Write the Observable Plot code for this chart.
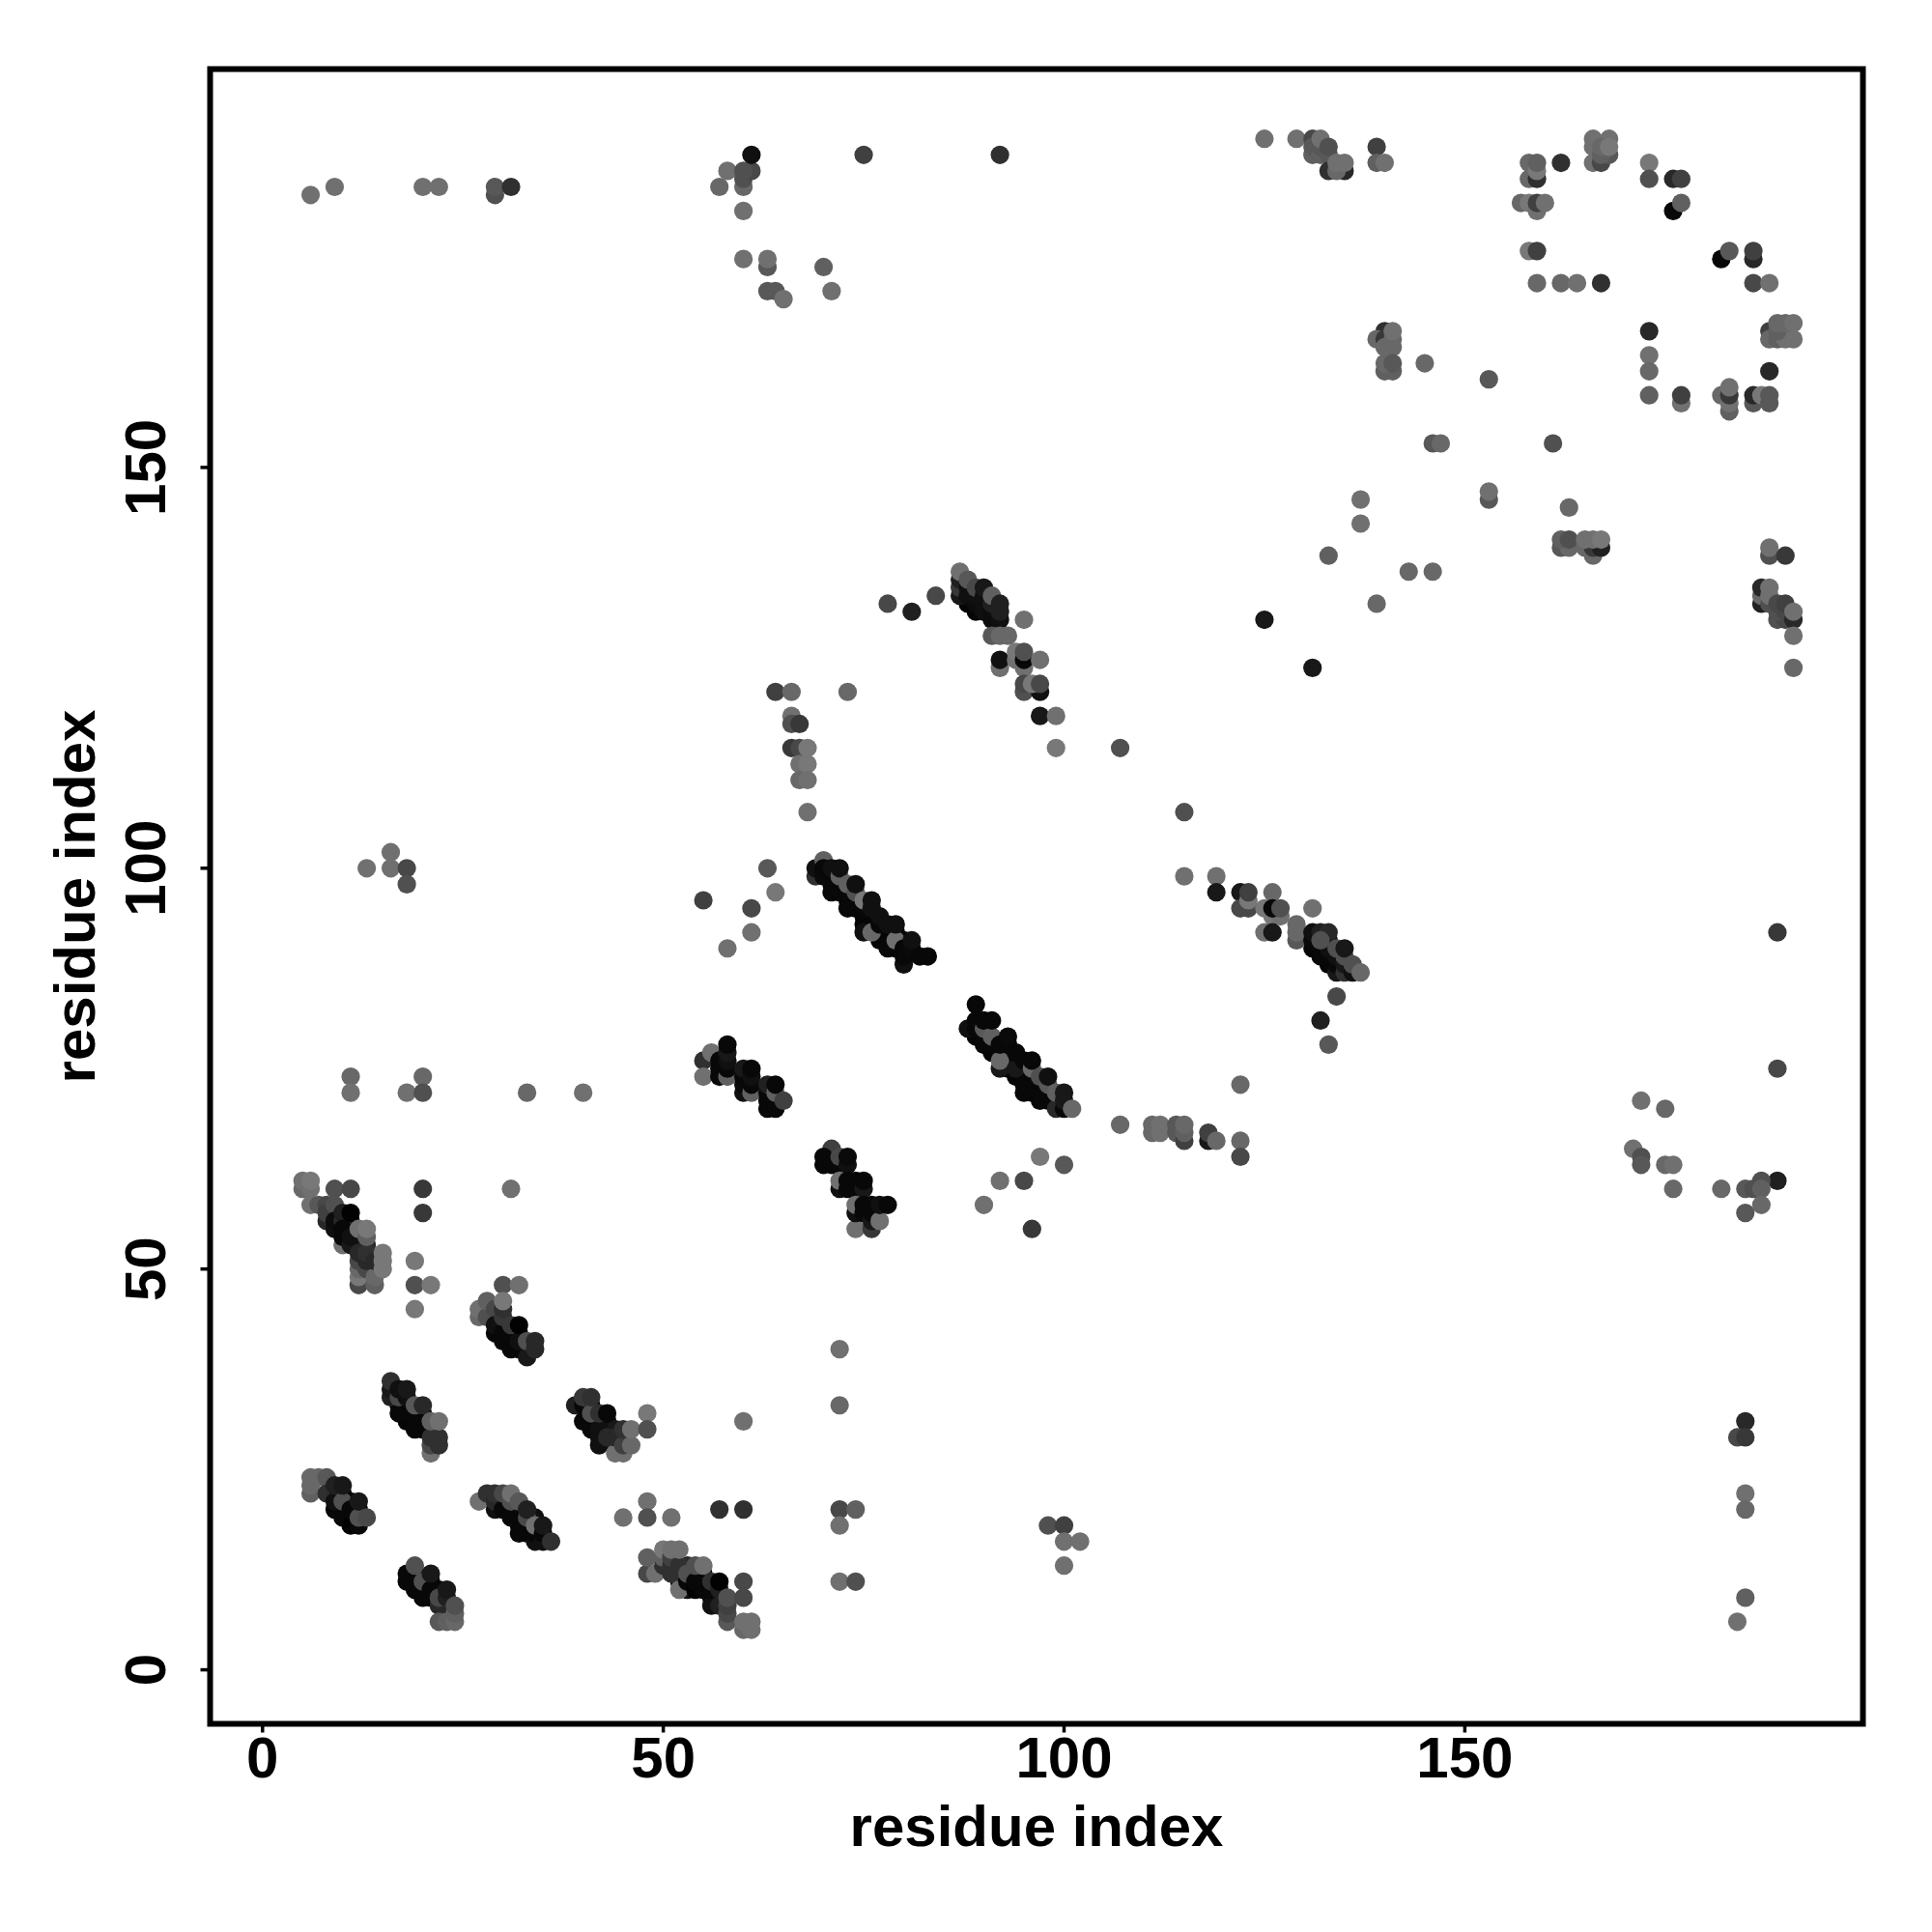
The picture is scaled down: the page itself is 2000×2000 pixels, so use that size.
<!DOCTYPE html>
<html><head><meta charset="utf-8">
<script src="https://cdn.jsdelivr.net/npm/d3@7"></script>
<script src="https://cdn.jsdelivr.net/npm/@observablehq/plot@0.6"></script>
<style>html,body{margin:0;padding:0;background:#fff}</style>
</head><body><div id="chart"></div>
<script>
// contacts as [residue i, residue j, grey level 0-255]
const helixCores=[[71,98,0x06],[72,98,0x06],[73,96,0x06],[74,96,0x06],[74,95,0x06],[75,94,0x06],[76,94,0x06],[76,93,0x06],[75,93,0x06],[77,92,0x06],[78,92,0x06],[78,91,0x06],[79,92,0x06],[79,90,0x06],[80,91,0x06],[77,91,0x06],
[89,79,0x06],[90,79,0x06],[92,77,0x06],[93,77,0x06],[91,77,0x06],[93,76,0x06],[94,76,0x06],[93,75,0x06],[94,74,0x06],[95,75,0x06],[95,74,0x06],[96,74,0x06],[96,72,0x06],[97,73,0x06],[98,72,0x06],[98,71,0x06],[99,71,0x06],
[9,57,0x08],[11,55,0x08],[11,56,0x08],[12,53,0x10],[12,54,0x10],[13,53,0x28],[29,44,0x10],[30,43,0x06],[31,41,0x06],[31,42,0x06],[32,42,0x06],[33,40,0x06],
[17,33,0x06],[18,33,0x06],[18,31,0x06],[19,32,0x06],[20,31,0x06],[20,32,0x06],[21,30,0x10],[41,31,0x06],[41,33,0x06],[42,31,0x06],[43,30,0x10],[43,31,0x10],[44,30,0x18],[44,28,0x28],
[9,22,0x06],[10,20,0x06],[10,22,0x06],[11,19,0x06],[11,21,0x06],[12,20,0x06],[29,20,0x10],[30,21,0x06],[31,20,0x06],[32,18,0x06],[32,20,0x06],[33,18,0x06],[33,17,0x06],[34,19,0x10],
[19,12,0x06],[20,10,0x06],[21,9,0x06],[21,11,0x06],[22,10,0x06],[23,8,0x18],[52,11,0x10],[52,12,0x10],[53,10,0x10],[53,13,0x28],[54,12,0x08],[55,11,0x06],[55,12,0x08],[56,9,0x06],[57,9,0x06],
[89,132,0x06],[88,133,0x06],[131,90,0x06],[133,88,0x06],[133,91,0x10]];
const topLeft=[[6,184,0x70],[9,185,0x70],[20,185,0x70],[22,185,0x70],[29,184,0x50],[29,185,0x58],[31,185,0x30],
[57,185,0x68],[58,187,0x70],[60,185,0x68],[60,186,0x50],[61,187,0x48],[60,187,0x50],[61,189,0x10],[60,182,0x70],[60,176,0x70],[63,175,0x58],[63,176,0x70],[63,172,0x58],[64,172,0x58],[65,171,0x70],[70,175,0x60],[71,172,0x70],[75,189,0x40],[92,189,0x30]];
const topRight=[[125,191,0x70],[129,191,0x70],[131,191,0x48],[131,189,0x60],[131,190,0x58],[132,189,0x60],[132,190,0x58],[132,191,0x70],[133,189,0x58],[133,190,0x50],[133,187,0x30],[135,187,0x28],[134,187,0x68],[134,188,0x70],[135,188,0x70],[139,190,0x40],[139,188,0x60],[140,188,0x70],
[158,188,0x68],[158,186,0x68],[159,186,0x30],[159,187,0x78],[159,188,0x60],[157,183,0x68],[158,183,0x78],[159,182,0x70],[159,183,0x40],[160,183,0x70],[158,177,0x78],[159,177,0x40],[159,173,0x68],[162,173,0x68],[164,173,0x70],[167,173,0x30],[162,188,0x30],
[166,188,0x70],[167,188,0x48],[166,191,0x70],[168,191,0x70],[166,190,0x70],[168,189,0x58],[167,189,0x60],[167,190,0x68],[168,190,0x78],
[173,188,0x78],[173,186,0x50],[176,186,0x28],[177,186,0x40],[176,182,0x08],[177,183,0x60],[182,176,0x08],[183,177,0x58],[186,176,0x28],[186,177,0x40],[186,173,0x48],[188,173,0x70]];
const rightRing=[[188,167,0x40],[188,166,0x68],[189,166,0x60],[190,166,0x70],[191,166,0x70],[189,167,0x60],[189,168,0x68],[190,168,0x68],[191,168,0x70],[188,162,0x28],
[173,167,0x28],[173,164,0x70],[173,162,0x68],[173,159,0x60],[177,158,0x70],[177,159,0x40],[182,159,0x68],[183,157,0x60],[183,158,0x70],[183,159,0x38],[183,160,0x70],[186,158,0x58],[186,159,0x28],[187,159,0x78],[188,158,0x58],[188,159,0x58]];
const column140=[[140,167,0x30],[139,166,0x68],[140,166,0x38],[140,165,0x68],[141,165,0x68],[141,166,0x68],[141,167,0x70],[140,162,0x60],[141,162,0x60],[140,163,0x68],[141,163,0x58],[145,163,0x68],[153,161,0x58],[161,153,0x50],[146,153,0x58],[147,153,0x68],[153,146,0x58],[153,147,0x70],[137,146,0x70],[137,143,0x70],[133,139,0x60],[139,133,0x68],[143,137,0x68],[146,137,0x68],[125,131,0x18],[131,125,0x18]];
const cluster140=[[163,145,0x68],[162,140,0x58],[163,140,0x68],[162,141,0x60],[163,141,0x50],[166,139,0x68],[165,140,0x68],[166,140,0x38],[167,140,0x20],[165,141,0x70],[166,141,0x70],[167,141,0x78],
[188,139,0x50],[188,140,0x70],[190,139,0x38],[187,133,0x20],[187,134,0x68],[187,135,0x28],[188,133,0x50],[188,134,0x70],[188,135,0x70],[189,131,0x50],[190,131,0x48],[189,132,0x50],[190,132,0x48],[189,133,0x48],[190,133,0x40],[191,131,0x28],[191,132,0x70],[191,129,0x70],[191,125,0x68]];
const rightLow=[[189,92,0x38],[189,75,0x48],[189,61,0x20],[187,61,0x50],[185,60,0x58],[186,60,0x50],[187,60,0x60],[182,60,0x68],[185,57,0x58],[187,58,0x68],[172,71,0x70],[175,70,0x68],[171,65,0x70],[172,64,0x50],[172,63,0x58],[175,63,0x68],[176,63,0x70],[176,60,0x68],[185,31,0x28],[184,29,0x48],[185,29,0x38],[185,22,0x70],[185,20,0x68],[185,9,0x60],[184,6,0x70]];
const helix87=[[87,134,0x18],[87,135,0x38],[87,136,0x20],[87,137,0x70],[88,134,0x10],[88,135,0x10],[88,136,0x58],[89,133,0x0c],[89,134,0x10],[89,135,0x48],[90,132,0x10],[90,133,0x10],[90,134,0x10],[90,135,0x18],[91,131,0x0c],[91,132,0x0c],[91,133,0x20],[91,134,0x60],[92,131,0x10],[92,132,0x20],[92,133,0x20],[95,131,0x70],
[91,129,0x58],[92,129,0x68],[93,129,0x68],[92,125,0x70],[92,126,0x10],[94,126,0x70],[94,127,0x78],[95,125,0x70],[95,126,0x08],[95,127,0x50],[97,126,0x70],[95,122,0x50],[95,123,0x48],[97,122,0x10],[96,123,0x78],[97,123,0x48],[97,119,0x18],[99,119,0x70],[99,115,0x78],[107,115,0x50],[84,134,0x48],[81,132,0x20],[78,133,0x48]];
const helix115=[[115,107,0x50],[115,99,0x70],[119,99,0x70],[119,97,0x18],[122,97,0x18],[122,95,0x48],[123,95,0x48],[123,96,0x78],[123,97,0x40],[126,97,0x68],[125,95,0x78],[126,94,0x78],[127,94,0x70],[126,95,0x08],[127,95,0x50],[131,95,0x70],[125,92,0x70],[126,92,0x18],[129,91,0x58],[129,92,0x68],[129,93,0x68],
[131,91,0x08],[131,92,0x10],[132,92,0x20],[133,92,0x28],[132,90,0x08],[132,89,0x08],[133,89,0x08],[133,90,0x10],[134,87,0x18],[134,88,0x08],[134,89,0x10],[132,91,0x50],[134,90,0x50],[135,87,0x30],[135,88,0x18],[135,89,0x50],[135,90,0x18],[136,87,0x10],[136,88,0x50],[137,87,0x68],[134,84,0x48],[132,81,0x20],[133,78,0x58]];
const near100=[[63,100,0x58],[64,97,0x78],[55,96,0x40],[61,95,0x48],[61,92,0x70],[58,90,0x70],[13,100,0x70],[16,102,0x70],[16,100,0x70],[18,100,0x48],[18,98,0x50],[11,74,0x68],[11,72,0x70],[18,72,0x70],[20,74,0x68],[20,72,0x50],[33,72,0x68],[40,72,0x70]];
const helix70=[[69,99,0x30],[69,100,0x10],[70,101,0x60],[70,99,0x0a],[70,100,0x08],[71,97,0x08],[71,99,0x08],[71,100,0x10],[72,97,0x08],[72,99,0x60],[72,100,0x10],[73,95,0x08],[73,97,0x08],[73,98,0x60],[74,97,0x50],[74,98,0x10],[75,92,0x10],[75,95,0x08],[75,96,0x78],[76,92,0x68],[76,95,0x10],[76,96,0x10],[77,93,0x08],[77,94,0x10],[78,90,0x08],[78,93,0x10],[79,91,0x70],[79,93,0x10],[80,88,0x10],[80,89,0x08],[80,90,0x08],[81,90,0x0a],[81,91,0x10],[82,89,0x08],[83,89,0x08]];
const helix89=[[88,80,0x10],[89,80,0x08],[89,81,0x08],[89,83,0x08],[90,78,0x08],[90,80,0x58],[90,81,0x08],[91,78,0x08],[91,79,0x60],[91,81,0x08],[92,75,0x18],[92,76,0x68],[92,78,0x08],[93,78,0x08],[93,79,0x0a],[94,75,0x18],[94,77,0x08],[95,72,0x08],[95,73,0x08],[95,76,0x08],[96,73,0x08],[96,75,0x68],[96,76,0x08],[97,71,0x08],[97,72,0x08],[97,74,0x50],[98,73,0x58],[98,74,0x10],[99,70,0x28],[99,72,0x60],[100,70,0x08],[100,71,0x18],[100,72,0x18],[101,70,0x68],[107,68,0x68]];
const near60=[[97,64,0x78],[100,63,0x58],[92,61,0x70],[95,61,0x48],[90,58,0x70],[96,55,0x38]];
const helix55=[[55,76,0x30],[56,77,0x70],[55,74,0x70],[57,74,0x08],[57,75,0x08],[57,76,0x08],[58,74,0x60],[58,75,0x08],[58,76,0x10],[58,77,0x18],[58,78,0x08],[60,72,0x10],[60,73,0x0a],[60,74,0x08],[60,75,0x18],[61,72,0x60],[61,73,0x08],[61,74,0x10],[61,75,0x08],[63,70,0x08],[63,71,0x08],[63,72,0x08],[63,73,0x20],[64,70,0x08],[64,71,0x08],[64,72,0x60],[64,73,0x08],[65,71,0x40]];
const helix62=[[71,65,0x40],[70,63,0x08],[70,64,0x08],[71,63,0x08],[72,63,0x08],[72,64,0x48],[73,63,0x10],[73,64,0x0a],[72,60,0x10],[72,61,0x70],[73,60,0x08],[73,61,0x08],[74,60,0x08],[74,61,0x08],[75,60,0x18],[75,61,0x08],[74,55,0x70],[74,57,0x10],[74,58,0x70],[75,57,0x08],[75,58,0x08],[76,55,0x38],[76,56,0x18],[76,57,0x08],[76,58,0x08],[77,56,0x70],[77,58,0x10],[78,58,0x08]];
const cluster5=[[5,60,0x68],[5,61,0x70],[6,60,0x70],[6,61,0x78],[9,60,0x50],[11,60,0x48],[20,60,0x38],[20,57,0x38],[31,60,0x70],[6,58,0x70],[7,58,0x58],[8,58,0x48],[8,56,0x28],[8,57,0x40],[9,58,0x50],[9,55,0x10],[9,56,0x0c],[10,56,0x28],[10,57,0x20],[11,57,0x02],[10,53,0x70],[10,54,0x08],[10,55,0x08],[11,53,0x18],[11,54,0x10],[12,48,0x48],[12,49,0x78],[12,50,0x68],[12,51,0x48],[12,52,0x28],[12,55,0x70],[13,50,0x48],[13,51,0x28],[13,52,0x30],[13,54,0x60],[13,55,0x78],[14,48,0x60],[14,49,0x68],[14,51,0x28],[15,50,0x78],[15,51,0x78],[15,52,0x78],[19,51,0x78],[19,48,0x50],[21,48,0x78],[19,45,0x78],[30,48,0x50],[32,48,0x70]];
const cluster27=[[27,44,0x68],[27,45,0x70],[28,44,0x50],[28,46,0x60],[29,45,0x48],[29,42,0x08],[29,43,0x10],[30,41,0x08],[30,42,0x08],[30,44,0x38],[30,45,0x30],[30,46,0x78],[31,40,0x08],[31,43,0x38],[32,40,0x08],[32,41,0x10],[32,43,0x02],[33,39,0x18],[33,41,0x50],[34,40,0x28],[34,41,0x28]];
const cluster16=[[16,34,0x20],[16,35,0x18],[16,36,0x30],[17,32,0x08],[17,34,0x48],[17,35,0x10],[18,32,0x08],[18,34,0x10],[18,35,0x18],[19,30,0x08],[19,31,0x08],[19,33,0x58],[20,30,0x08],[20,33,0x28],[21,27,0x70],[21,28,0x48],[21,29,0x30],[22,28,0x30],[22,29,0x30],[21,31,0x60],[22,31,0x70]];
const cluster39=[[39,33,0x20],[40,31,0x08],[40,33,0x08],[40,34,0x38],[41,30,0x08],[41,32,0x50],[41,34,0x30],[42,28,0x10],[42,29,0x10],[42,30,0x10],[42,32,0x30],[43,29,0x28],[43,32,0x08],[44,27,0x70],[44,29,0x28],[45,27,0x70],[45,28,0x40],[45,30,0x30],[46,28,0x68],[46,30,0x70],[48,32,0x78],[48,30,0x50]];
const cluster6=[[6,22,0x60],[6,23,0x68],[6,24,0x68],[7,24,0x68],[8,24,0x58],[8,22,0x30],[9,20,0x08],[9,21,0x10],[9,23,0x20],[10,19,0x08],[10,21,0x50],[10,23,0x18],[11,18,0x02],[11,20,0x08],[12,18,0x08],[12,19,0x50],[12,21,0x18],[13,19,0x48]];
const cluster28=[[27,21,0x70],[28,22,0x30],[29,21,0x28],[29,22,0x30],[30,20,0x08],[30,22,0x48],[31,19,0x08],[31,21,0x50],[31,22,0x70],[32,17,0x08],[32,19,0x08],[32,21,0x58],[33,19,0x48],[33,20,0x20],[34,16,0x10],[34,17,0x08],[34,18,0x70],[35,16,0x10],[35,17,0x08],[35,18,0x18],[36,16,0x30],[48,21,0x70],[48,19,0x50],[45,19,0x70],[51,19,0x70],[57,20,0x30],[60,20,0x30]];
const cluster18=[[18,11,0x08],[18,12,0x08],[19,10,0x08],[19,11,0x08],[19,13,0x50],[20,9,0x08],[20,11,0x50],[21,10,0x08],[21,12,0x18],[22,8,0x28],[22,9,0x48],[23,9,0x20],[23,10,0x18],[23,7,0x28],[22,6,0x58],[23,6,0x60],[24,6,0x68],[24,7,0x60],[24,8,0x50]];
const cluster48=[[48,12,0x48],[48,14,0x60],[49,12,0x70],[50,13,0x30],[50,14,0x60],[50,15,0x78],[51,12,0x30],[51,13,0x30],[51,14,0x40],[51,15,0x70],[52,10,0x70],[52,13,0x30],[52,15,0x70],[53,11,0x08],[53,12,0x50],[54,10,0x02],[54,11,0x08],[54,13,0x50],[55,10,0x08],[55,13,0x70],[56,8,0x10],[56,10,0x08],[56,11,0x30],[57,8,0x20],[57,10,0x20],[57,11,0x02],[58,6,0x58],[58,7,0x48],[58,8,0x40],[58,9,0x50],[60,11,0x48],[60,9,0x48],[60,5,0x68],[60,6,0x70],[61,5,0x70],[61,6,0x70]];
const lowerMid=[[72,40,0x70],[72,33,0x68],[60,31,0x70],[72,20,0x48],[74,20,0x60],[72,18,0x70],[72,11,0x70],[74,11,0x50],[98,18,0x50],[100,18,0x40],[100,16,0x70],[102,16,0x70],[100,13,0x70]];
const column66=[[64,122,0x40],[66,122,0x68],[73,122,0x68],[66,119,0x70],[66,118,0x50],[67,118,0x38],[66,115,0x38],[67,115,0x48],[68,115,0x78],[67,113,0x70],[68,113,0x78],[67,111,0x68],[68,111,0x70],[68,107,0x70]];
const row68=[[111,67,0x68],[111,68,0x68],[112,67,0x70],[112,68,0x70],[114,67,0x58],[114,68,0x58],[115,66,0x40],[115,67,0x60],[115,68,0x68],[118,66,0x18],[118,67,0x40],[119,66,0x68],[122,66,0x68],[122,64,0x48],[122,73,0x68]];
const xTicks=[0,50,100,150], yTicks=[0,50,100,150], axisName="residue index";

const contacts=[helixCores,topLeft,topRight,rightRing,column140,cluster140,rightLow,helix87,helix115,near100,helix70,helix89,near60,helix55,helix62,cluster5,cluster27,cluster16,cluster39,cluster6,cluster28,cluster18,cluster48,lowerMid,column66,row68].flat()
  .map(([i,j,grey])=>({i,j,grey}));

const fam='"Liberation Sans",Arial,sans-serif';
const chart=Plot.plot({
  width:2000,height:2000,
  marginLeft:217,marginRight:72,marginTop:71,marginBottom:216,
  style:{fontFamily:fam,background:"#fff"},
  x:{domain:[-6.54,199.67],ticks:xTicks},
  y:{domain:[-6.74,199.7],ticks:yTicks},
  marks:[
    Plot.dot(contacts,{x:"i",y:"j",r:9.6,fill:d=>d3.rgb(d.grey,d.grey,d.grey).formatHex(),stroke:"none"}),
    Plot.frame({stroke:"#000",strokeWidth:6}),
    Plot.axisX({ticks:xTicks,tickSize:9.5,tickPadding:3,strokeWidth:3.5,fontSize:60,fontWeight:"bold",fill:"#000",label:axisName,labelAnchor:"center",labelArrow:"none",labelOffset:126,tickFormat:d=>d}),
    Plot.axisY({ticks:yTicks,tickSize:9.5,tickPadding:37,strokeWidth:3.5,fontSize:60,fontWeight:"bold",fill:"#000",tickRotate:-90,textAnchor:"middle",label:axisName,labelAnchor:"center",labelArrow:"none",labelOffset:162,tickFormat:d=>d})
  ]
});
document.getElementById("chart").appendChild(chart);
</script></body></html>
